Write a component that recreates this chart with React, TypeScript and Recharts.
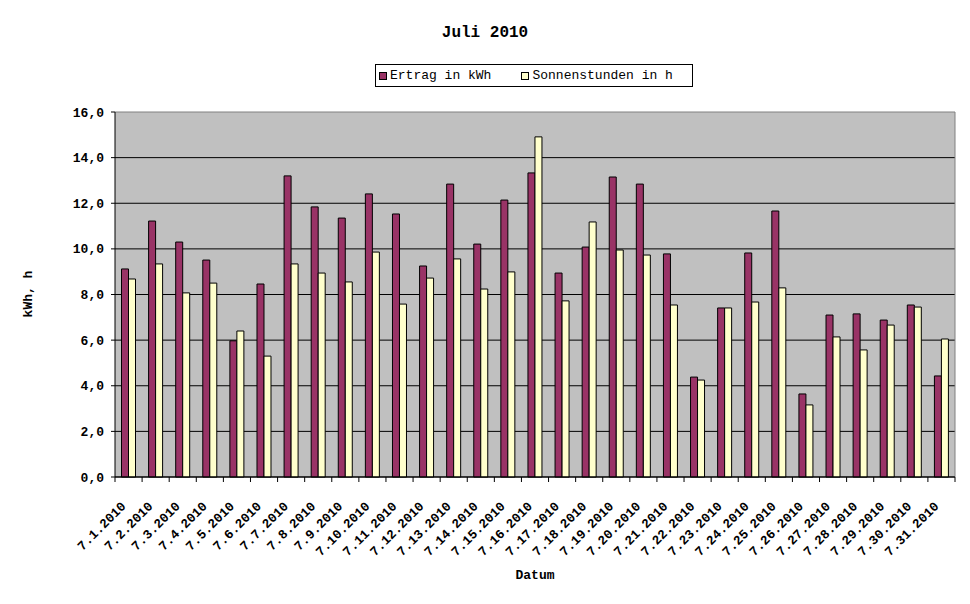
import { Bar, BarChart, CartesianGrid, XAxis, YAxis } from "recharts";

const days = [
  "7.1.2010", "7.2.2010", "7.3.2010", "7.4.2010", "7.5.2010", "7.6.2010",
  "7.7.2010", "7.8.2010", "7.9.2010", "7.10.2010", "7.11.2010", "7.12.2010",
  "7.13.2010", "7.14.2010", "7.15.2010", "7.16.2010", "7.17.2010", "7.18.2010",
  "7.19.2010", "7.20.2010", "7.21.2010", "7.22.2010", "7.23.2010", "7.24.2010",
  "7.25.2010", "7.26.2010", "7.27.2010", "7.28.2010", "7.29.2010", "7.30.2010",
  "7.31.2010",
];

const ertrag = [
  9.12, 11.22, 10.3, 9.51, 5.97, 8.46, 13.2, 11.84, 11.35, 12.41, 11.53,
  9.25, 12.84, 10.21, 12.14, 13.33, 8.94, 10.08, 13.15, 12.84, 9.78, 4.38,
  7.41, 9.82, 11.66, 3.64, 7.1, 7.15, 6.88, 7.54, 4.43,
];

const sonnenstunden = [
  8.68, 9.34, 8.07, 8.5, 6.4, 5.3, 9.34, 8.94, 8.55, 9.86, 7.58, 8.72, 9.56,
  8.24, 8.99, 14.91, 7.72, 11.18, 9.95, 9.73, 7.54, 4.25, 7.41, 7.67, 8.29,
  3.16, 6.14, 5.57, 6.66, 7.45, 6.05,
];

const yTicks = [0, 2, 4, 6, 8, 10, 12, 14, 16];

const series = [
  { key: "ertrag", name: "Ertrag in kWh", color: "#993366" },
  { key: "sonne", name: "Sonnenstunden in h", color: "#FFFFCC" },
];

const data = days.map((label, i) => ({
  label,
  ertrag: ertrag[i],
  sonne: sonnenstunden[i],
}));

const mono = "'Liberation Mono', 'Courier New', monospace";

function DateTick(props: any) {
  const { x, y, payload, index, width } = props;
  const band = width ? width / days.length : 27.1;
  const left = x - band / 2;
  const ax = x - 2;
  const ay = y + 30;
  return (
    <g>
      <line x1={left} y1={y} x2={left} y2={y + 5} stroke="#000" />
      {index === days.length - 1 && (
        <line x1={x + band / 2} y1={y} x2={x + band / 2} y2={y + 5} stroke="#000" />
      )}
      <text
        x={ax}
        y={ay}
        transform={`rotate(-45, ${ax}, ${ay})`}
        textAnchor="end"
        fontFamily={mono}
        fontWeight="bold"
        fontSize={13}
        fill="#000"
      >
        {payload.value}
      </text>
    </g>
  );
}

function gridLine(props: any) {
  const { x1, y1, x2, y2, y } = props;
  const isTop = Math.abs(y1 - y) < 0.5;
  return (
    <line
      key={props.key}
      x1={x1}
      y1={y1}
      x2={x2}
      y2={y2}
      stroke={isTop ? "#808080" : "#000"}
      strokeWidth={1}
    />
  );
}

export default function App() {
  return (
    <div style={{ position: "relative", width: 970, height: 604, background: "#fff" }}>
      <style>{`body{margin:0}`}</style>
      <div
        style={{
          position: "absolute",
          top: 24,
          left: 0,
          width: 970,
          textAlign: "center",
          fontFamily: mono,
          fontWeight: "bold",
          fontSize: 16,
        }}
      >
        Juli 2010
      </div>
      <div
        style={{
          position: "absolute",
          top: 64,
          left: 375,
          width: 316,
          height: 21,
          border: "1px solid #000",
          display: "flex",
          alignItems: "center",
          fontFamily: mono,
          fontSize: 13,
          color: "#000",
        }}
      >
        {series.map((s, i) => (
          <span
            key={s.key}
            style={{ display: "flex", alignItems: "center", marginLeft: i === 0 ? 3 : 30 }}
          >
            <span
              style={{
                display: "inline-block",
                width: 6,
                height: 6,
                background: s.color,
                border: "1px solid #000",
                marginRight: 3,
              }}
            />
            {s.name}
          </span>
        ))}
      </div>
      <div
        style={{
          position: "absolute",
          left: 28,
          top: 294,
          transform: "translate(-50%, -50%) rotate(-90deg)",
          fontFamily: mono,
          fontWeight: "bold",
          fontSize: 13,
          whiteSpace: "nowrap",
        }}
      >
        kWh, h
      </div>
      <div
        style={{
          position: "absolute",
          left: 535,
          top: 568,
          transform: "translateX(-50%)",
          fontFamily: mono,
          fontWeight: "bold",
          fontSize: 13,
        }}
      >
        Datum
      </div>
      <BarChart
        width={970}
        height={604}
        data={data}
        margin={{ top: 112, right: 15, bottom: 0, left: 0 }}
        barGap={0}
        barCategoryGap="24%"
        style={{ position: "absolute", top: 0, left: 0 }}
      >
        <CartesianGrid
          fill="#C0C0C0"
          fillOpacity={1}
          horizontal={gridLine}
          vertical={true}
          stroke="#808080"
          verticalCoordinatesGenerator={({ offset }: any) => [offset.left + offset.width]}
        />
        <XAxis
          dataKey="label"
          interval={0}
          tickLine={false}
          tickSize={0}
          tickMargin={0}
          axisLine={{ stroke: "#000" }}
          tick={<DateTick />}
          height={127}
        />
        <YAxis
          domain={[0, 16]}
          ticks={yTicks}
          width={115}
          tickSize={4}
          tickMargin={7}
          axisLine={{ stroke: "#000" }}
          tickLine={{ stroke: "#000" }}
          tickFormatter={(v: number) => v.toFixed(1).replace(".", ",")}
          tick={{ fill: "#000", fontFamily: mono, fontWeight: "bold", fontSize: 13 }}
        />
        {series.map((s) => (
          <Bar
            key={s.key}
            dataKey={s.key}
            name={s.name}
            fill={s.color}
            stroke="#000"
            strokeWidth={1}
            isAnimationActive={false}
          />
        ))}
      </BarChart>
    </div>
  );
}
